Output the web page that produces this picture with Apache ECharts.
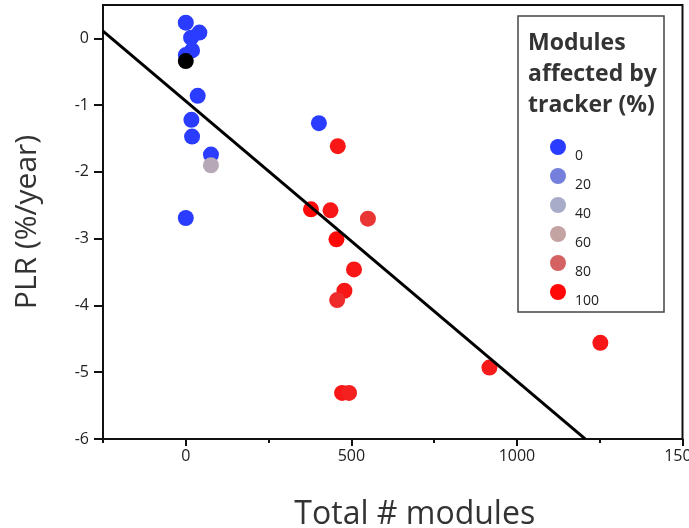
<!DOCTYPE html>
<html><head><meta charset="utf-8">
<script src="https://cdn.jsdelivr.net/npm/echarts@6/dist/echarts.min.js"></script>
<style>html,body{margin:0;padding:0;background:#fff}#c{width:689px;height:528px}</style>
</head><body><div id="c"></div>
<script>
// ---- data ----
const moduleCounts = [0, 41, 16, 19, 0, 36, 17, 19, 76, 76, 0, 402, 459, 378, 437, 550, 455, 508, 479, 457, 917, 472, 493, 1252];
const plrValues    = [0.235, 0.087, 0.01, -0.18, -0.25, -0.86, -1.22, -1.47, -1.74, -1.90, -2.69, -1.27, -1.615, -2.56, -2.575, -2.70, -3.01, -3.46, -3.78, -3.92, -4.93, -5.31, -5.31, -4.56];
const trackerPct   = [0, 0, 0, 0, 0, 0, 0, 0, 0, 50, 0, 0, 97, 100, 97, 90, 100, 97, 97, 92, 96, 97, 95, 97];
const unknownModules = [0];
const unknownPLR     = [-0.34];
const legendPct = [0, 20, 40, 60, 80, 100];
const legendColors = ['#2a3cff', '#7480dc', '#a8acc8', '#c4a3a3', '#d46262', '#ff0808'];
const fitSlope = -0.004196;
const fitIntercept = -0.939;
const fitRange = [-250, 1206];
const xMajorTicks = [0, 500, 1000, 1500];
const xMinorTicks = [-250, 250, 750, 1250];
const yTicks = [-6, -5, -4, -3, -2, -1, 0];

const chart = echarts.init(document.getElementById('c'), null, {renderer: 'canvas'});
const FONT = 'Open Sans';
const mainData = moduleCounts.map((x, i) => [x, plrValues[i], trackerPct[i]]);
const unknownData = unknownModules.map((x, i) => [x, unknownPLR[i]]);
const fitData = fitRange.map(x => [x, fitIntercept + fitSlope * x]);

const legendSeries = legendPct.map((p, i) => ({
  name: String(p), type: 'scatter', data: [], itemStyle: {color: legendColors[i], opacity: 1}, xAxisIndex: 0, yAxisIndex: 0
}));

chart.setOption({
  animation: false,
  backgroundColor: '#fff',
  grid: {left: 103, right: 6.5, top: 5, bottom: 89, show: true, borderColor: '#111', borderWidth: 2,
         backgroundColor: 'transparent', containLabel: false, outerBoundsMode: 'none'},
  xAxis: [{
    type: 'value', min: -250, max: 1500,
    name: 'Total # modules', nameLocation: 'middle', nameGap: 60,
    nameTextStyle: {fontFamily: FONT, fontSize: 32, color: '#333', padding: [0, 0, 0, 44]},
    axisLine: {show: true, onZero: false, lineStyle: {color: '#111', width: 2}},
    axisTick: {show: true, length: 7, lineStyle: {color: '#111', width: 2}, customValues: xMajorTicks},
    axisLabel: {show: true, fontFamily: FONT, fontSize: 16, color: '#222', margin: 9, customValues: xMajorTicks,
                formatter: v => String(v)},
    splitLine: {show: false}
  }, {
    type: 'value', min: -250, max: 1500, position: 'bottom',
    axisLine: {show: false, onZero: false},
    axisTick: {show: true, length: 4, lineStyle: {color: '#111', width: 2}, customValues: xMinorTicks},
    axisLabel: {show: false},
    splitLine: {show: false}
  }],
  yAxis: {
    type: 'value', min: -6, max: 0.5,
    name: 'PLR (%/year)', nameLocation: 'middle', nameGap: 61, nameRotate: 90,
    nameTextStyle: {fontFamily: FONT, fontSize: 30, color: '#333'},
    axisLine: {show: true, onZero: false, lineStyle: {color: '#111', width: 2}},
    axisTick: {show: true, length: 9, lineStyle: {color: '#111', width: 2}, customValues: yTicks},
    axisLabel: {show: true, fontFamily: FONT, fontSize: 16, color: '#222', margin: 14, customValues: yTicks},
    splitLine: {show: false}
  },
  visualMap: {
    show: false, type: 'continuous', seriesIndex: 0, dimension: 2, min: 0, max: 100,
    inRange: {color: legendColors}
  },
  legend: {
    orient: 'vertical', left: 550, top: 129, padding: 0,
    itemWidth: 16, itemHeight: 16, itemGap: -7, icon: 'circle',
    data: legendPct.map(String),
    formatter: name => '\n{t|' + name + '}',
    textStyle: {fontFamily: FONT, fontSize: 14, color: '#222', lineHeight: 18,
                rich: {t: {fontFamily: FONT, fontSize: 14, color: '#222', lineHeight: 18, padding: [0, 0, 0, 4]}}},
    selectedMode: false
  },
  graphic: [
    {type: 'rect', shape: {x: 518, y: 16, width: 146, height: 296}, style: {fill: '#fff', stroke: '#444', lineWidth: 1.5}, z: 1},
    {type: 'text', left: 528, top: 28, z: 2, style: {text: 'Modules\naffected by\ntracker (%)', font: 'bold 23px "Open Sans"', fill: '#333', lineHeight: 31}}
  ],
  series: [
    {type: 'scatter', data: mainData, symbolSize: 16, itemStyle: {opacity: 1}, z: 2},
    {type: 'scatter', data: unknownData, symbolSize: 16, itemStyle: {color: '#000', opacity: 1}, z: 3},
    {type: 'line', data: fitData, showSymbol: false, symbol: 'none', lineStyle: {color: '#000', width: 3}, z: 4, silent: true}
  ].concat(legendSeries)
});
</script></body></html>
